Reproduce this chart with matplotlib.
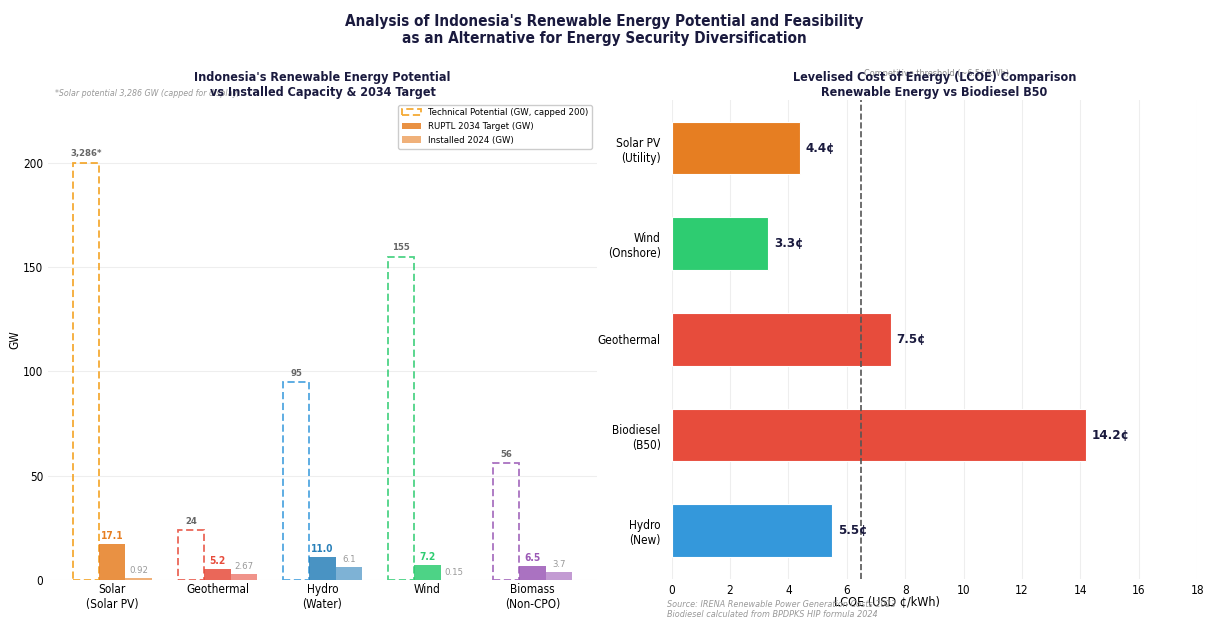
import matplotlib
matplotlib.use('Agg')
import matplotlib.pyplot as plt
import numpy as np

plt.rcParams['font.family'] = ['DejaVu Sans']
plt.rcParams['font.stretch'] = 'condensed'

# ---- potenziale vs capacita installata (GW) ----
sources = ['Solar\n(Solar PV)', 'Geothermal', 'Hydro\n(Water)', 'Wind', 'Biomass\n(Non-CPO)']
potential = [200, 24, 95, 155, 56]          # solare tagliato a 200 per la visualizzazione
potential_labels = ['3,286*', '24', '95', '155', '56']
target_2034 = [17.1, 5.2, 11.0, 7.2, 6.5]
installed_2024 = [0.92, 2.67, 6.1, 0.15, 3.7]
installed_labels = ['0.92', '2.67', '6.1', '0.15', '3.7']
edge_colors = ['#f39c12', '#e74c3c', '#3498db', '#2ecc71', '#9b59b6']
fill_colors = ['#e67e22', '#e74c3c', '#2980b9', '#2ecc71', '#9b59b6']

# ---- LCOE (USD cent/kWh) ----
lcoe_names = ['Solar PV\n(Utility)', 'Wind\n(Onshore)', 'Geothermal', 'Biodiesel\n(B50)', 'Hydro\n(New)']
lcoe_values = [4.4, 3.3, 7.5, 14.2, 5.5]
lcoe_colors = ['#e67e22', '#2ecc71', '#e74c3c', '#e74c3c', '#3498db']
threshold = 6.5

navy = '#1a1a3e'

fig = plt.figure(figsize=(12.08, 6.21), dpi=100)
fig.suptitle("Analysis of Indonesia's Renewable Energy Potential and Feasibility\n"
             "as an Alternative for Energy Security Diversification",
             fontsize=11, fontweight='bold', color=navy, y=0.978)

#----------------------------------------------------
# Grafico sinistro
#----------------------------------------------------
ax1 = fig.add_axes([0.0397, 0.066, 0.4545, 0.773])
x = np.arange(len(sources))
w = 0.25
for i in range(len(sources)):
    ax1.bar(x[i] - w, potential[i], w, facecolor='none', edgecolor=edge_colors[i],
            linestyle=(0, (4, 2)), linewidth=1.3, alpha=0.85,
            label='Technical Potential (GW, capped 200)' if i == 0 else None)
    ax1.bar(x[i], target_2034[i], w, color=fill_colors[i], alpha=0.85,
            label='RUPTL 2034 Target (GW)' if i == 0 else None)
    ax1.bar(x[i] + w, installed_2024[i], w, color=fill_colors[i], alpha=0.6,
            label='Installed 2024 (GW)' if i == 0 else None)
    ax1.text(x[i] - w, potential[i] + 2, potential_labels[i], ha='center', va='bottom',
             fontsize=6.8, fontweight='bold', color='#666666')
    ax1.text(x[i], target_2034[i] + 1.5, f'{target_2034[i]:.1f}', ha='center', va='bottom',
             fontsize=7.3, fontweight='bold', color=fill_colors[i])
    ax1.text(x[i] + w, installed_2024[i] + 1.5, installed_labels[i], ha='center', va='bottom',
             fontsize=6.8, color='#999999')

ax1.set_xticks(x)
ax1.set_xticklabels(sources, fontsize=8.5)
ax1.set_ylim(0, 230)
ax1.set_yticks([0, 50, 100, 150, 200])
ax1.tick_params(axis='y', labelsize=8.5)
ax1.tick_params(axis='x', pad=2)
ax1.tick_params(length=0)
ax1.set_ylabel('GW', fontsize=8.5, labelpad=1)
ax1.grid(axis='y', color='#eeeeee', linewidth=0.8)
ax1.set_axisbelow(True)
for s in ax1.spines.values():
    s.set_visible(False)
ax1.set_title("Indonesia's Renewable Energy Potential\nvs Installed Capacity & 2034 Target",
              fontsize=9, fontweight='bold', color=navy, pad=3)
ax1.text(0.012, 1.005, '*Solar potential 3,286 GW (capped for display)', transform=ax1.transAxes,
         fontsize=6.3, style='italic', color='#999999', va='bottom')
ax1.legend(loc='upper right', fontsize=6.8, frameon=True, edgecolor='#cccccc', framealpha=1)

#----------------------------------------------------
# Grafico destro - LCOE
#----------------------------------------------------
ax2 = fig.add_axes([0.556, 0.068, 0.435, 0.771])
y = np.arange(len(lcoe_names))
ax2.barh(y, lcoe_values, height=0.55, color=lcoe_colors, edgecolor='white', linewidth=0.8)
for i, v in enumerate(lcoe_values):
    ax2.text(v + 0.2, y[i], f'{v}¢', va='center', ha='left', fontsize=9.5,
             fontweight='bold', color=navy)
ax2.set_yticks(y)
ax2.set_yticklabels(lcoe_names, fontsize=8.5)
ax2.invert_yaxis()
ax2.set_xlim(0, 18)
ax2.set_xticks(range(0, 19, 2))
ax2.tick_params(axis='x', labelsize=8.5)
ax2.tick_params(axis='y', pad=8)
ax2.tick_params(length=0)
ax2.axvline(threshold, color='#555555', linestyle='--', linewidth=1.2)
ax2.text(threshold + 0.1, 1.045, f'Competitive threshold (~{threshold}¢/kWh)',
         transform=ax2.get_xaxis_transform(), fontsize=6.5, color='#888888',
         ha='left', va='bottom')
ax2.grid(axis='x', color='#eeeeee', linewidth=0.8)
ax2.set_axisbelow(True)
for s in ax2.spines.values():
    s.set_visible(False)
ax2.set_xlabel('LCOE (USD ¢/kWh)', fontsize=9)
ax2.xaxis.set_label_coords(0.41, -0.035)
ax2.set_title('Levelised Cost of Energy (LCOE) Comparison\nRenewable Energy vs Biodiesel B50',
              fontsize=9, fontweight='bold', color=navy, pad=3)

fig.text(0.552, 0.019, 'Source: IRENA Renewable Power Generation Costs 2023\n'
         'Biodiesel calculated from BPDPKS HIP formula 2024',
         fontsize=6.5, style='italic', color='#999999', ha='left', va='center')

fig.savefig('out.png', dpi=100)
